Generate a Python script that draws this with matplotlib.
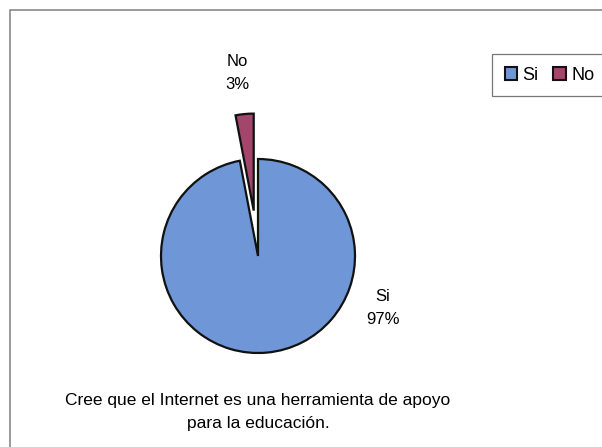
import matplotlib.pyplot as plt
from matplotlib.patches import Rectangle

# Survey answers
categories = ['Si', 'No']
percentages = [97, 3]
colors = ['#6f96d6', '#a3466b']
title = 'Cree que el Internet es una herramienta de apoyo\npara la educación.'

plt.rcParams['font.family'] = ['Liberation Sans', 'DejaVu Sans']

W, H = 602, 447
fig = plt.figure(figsize=(W / 100, H / 100), dpi=100)

# Outer chart border (right and bottom edges run off the image)
fig.patches.append(Rectangle((10 / W, -0.1), 1.2, 1.1 - 10 / H, transform=fig.transFigure,
                             fill=False, edgecolor='#8a8a8a', linewidth=1.2))

# Pie axes: centre at (258, 256) px, radius 97 px
R = 97
L = 2.0
cx, cy = 258, H - 256
half = R * L
ax = fig.add_axes([(cx - half) / W, (cy - half) / H, 2 * half / W, 2 * half / H])

wedges, _ = ax.pie(percentages, colors=colors, startangle=90, counterclock=False,
                   explode=[0, 0.47], radius=1,
                   wedgeprops=dict(edgecolor='#111111', linewidth=1.6))
for w in wedges:
    w.set_clip_on(False)

ax.set_xlim(-L, L)
ax.set_ylim(-L, L)
ax.set_aspect('equal')
ax.axis('off')

# Data labels
label_pos = {'No': (-0.21, 1.89), 'Si': (1.29, -0.54)}
for name, pct in zip(categories, percentages):
    x, y = label_pos[name]
    ax.text(x, y, f'{name}\n{pct}%', ha='center', va='center', fontsize=12,
            linespacing=1.65, clip_on=False)

# Legend
handles = [Rectangle((0, 0), 1, 1, facecolor=c, edgecolor='#111111', linewidth=1.5) for c in colors]
leg = fig.legend(handles, categories, loc='upper left', bbox_to_anchor=(492 / W, 1 - 54 / H),
                 ncol=2, frameon=True, fancybox=False, fontsize=13,
                 handlelength=0.7, handleheight=0.7, handletextpad=0.3,
                 columnspacing=0.8, borderpad=0.7, borderaxespad=0)
leg.get_frame().set_edgecolor('#555555')
leg.get_frame().set_linewidth(0.9)

# Chart caption under the pie
fig.text(258 / W, 1 - 412 / H, title, ha='center', va='center', fontsize=12.5,
         linespacing=1.6)

fig.savefig('out.png', dpi=100, facecolor='white')
